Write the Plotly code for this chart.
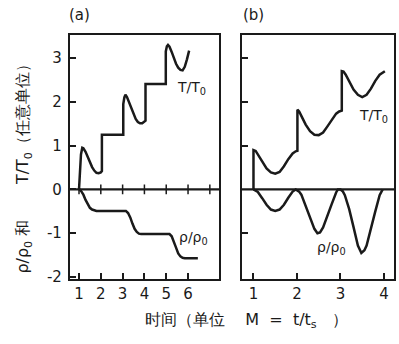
import plotly.graph_objects as go

# ---- data ----
# panel (a): T/T0
ta_x = [1.0, 1.04, 1.09, 1.15, 1.2, 1.3, 1.4, 1.5, 1.6, 1.7, 1.8, 1.9, 2.0, 2.05,
        2.05, 3.03,
        3.03, 3.08, 3.13, 3.2, 3.3, 3.4, 3.5, 3.6, 3.7, 3.8, 3.9, 4.0, 4.05,
        4.05, 4.98,
        4.98, 5.03, 5.08, 5.15, 5.25, 5.35, 5.45, 5.55, 5.65, 5.75, 5.85, 5.95, 6.05]
ta_y = [0.0, 0.45, 0.8, 0.95, 0.94, 0.86, 0.74, 0.62, 0.51, 0.43, 0.38, 0.37, 0.39, 0.42,
        1.25, 1.25,
        1.95, 2.1, 2.16, 2.11, 1.98, 1.84, 1.71, 1.61, 1.54, 1.51, 1.51, 1.54, 1.57,
        2.41, 2.41,
        3.15, 3.27, 3.3, 3.26, 3.14, 3.0, 2.87, 2.78, 2.73, 2.72, 2.8, 2.97, 3.17]

# panel (a): rho/rho0
ra_x = [1.0, 1.05, 1.1, 1.2, 1.3, 1.4, 1.5, 1.6, 1.7, 1.8, 1.9,
        3.15, 3.25, 3.35, 3.45, 3.55, 3.65, 3.75, 3.85,
        5.15, 5.25, 5.35, 5.45, 5.55, 5.65, 5.75, 5.85, 6.45]
ra_y = [0.0, -0.01, -0.04, -0.12, -0.24, -0.35, -0.42, -0.46, -0.48, -0.49, -0.49,
        -0.49, -0.54, -0.64, -0.78, -0.9, -0.97, -1.01, -1.02,
        -1.02, -1.07, -1.18, -1.33, -1.46, -1.53, -1.56, -1.57, -1.57]

# panel (b): T/T0
tb_x = [1.0, 1.0, 1.05, 1.1, 1.2, 1.3, 1.4, 1.5, 1.6, 1.7, 1.8, 1.9, 1.97, 2.01,
        2.01, 2.05, 2.1, 2.2, 2.3, 2.4, 2.5, 2.6, 2.7, 2.8, 2.9, 2.97, 3.03,
        3.03, 3.07, 3.12, 3.2, 3.3, 3.4, 3.5, 3.6, 3.7, 3.8, 3.9, 4.02]
tb_y = [0.0, 0.9, 0.88, 0.8, 0.62, 0.48, 0.39, 0.36, 0.4, 0.53, 0.69, 0.82, 0.87, 0.88,
        1.82, 1.78, 1.68, 1.48, 1.33, 1.25, 1.24, 1.3, 1.44, 1.6, 1.73, 1.78, 1.8,
        2.7, 2.69, 2.62, 2.46, 2.28, 2.16, 2.11, 2.16, 2.3, 2.48, 2.62, 2.7]

# panel (b): rho/rho0
rb_x = [1.0, 1.1, 1.2, 1.3, 1.4, 1.5, 1.6, 1.7, 1.8, 1.9, 1.97,
        2.05, 2.1, 2.2, 2.3, 2.4, 2.47, 2.53, 2.6, 2.7, 2.8, 2.9, 2.94,
        3.0, 3.05, 3.1, 3.2, 3.3, 3.4, 3.48, 3.55, 3.6, 3.7, 3.8, 3.9, 3.97]
rb_y = [0.0, -0.06, -0.2, -0.35, -0.46, -0.49, -0.46, -0.35, -0.19, -0.05, 0.0,
        -0.05, -0.12, -0.37, -0.63, -0.9, -1.0, -0.98, -0.87, -0.62, -0.33, -0.07, 0.0,
        0.0, -0.04, -0.13, -0.45, -0.86, -1.28, -1.45, -1.39, -1.28, -0.92, -0.5, -0.13, 0.0]

a_xticks = [1, 2, 3, 4, 5, 6]
a_zero_ticks = [1, 2, 3, 4, 5, 6, 7]
b_xticks = [1, 2, 3, 4]
y_ticks = [-2, -1, 0, 1, 2, 3]
b_yticks = [-1, 1, 2, 3]

W, H = 399, 344
def px(x):
    return x / W
def py(y):
    return 1 - y / H

INK = "#1a1a1a"
FONT = "DejaVu Sans"
LW = 2.5

fig = go.Figure()
fig.add_trace(go.Scatter(x=ta_x, y=ta_y, mode="lines", line=dict(color=INK, width=LW),
                         xaxis="x", yaxis="y", showlegend=False, hoverinfo="skip"))
fig.add_trace(go.Scatter(x=ra_x, y=ra_y, mode="lines", line=dict(color=INK, width=LW),
                         xaxis="x", yaxis="y", showlegend=False, hoverinfo="skip"))
fig.add_trace(go.Scatter(x=a_zero_ticks, y=[0] * len(a_zero_ticks), mode="markers",
                         marker=dict(symbol="line-ns", size=7, line=dict(color=INK, width=1.5)),
                         xaxis="x", yaxis="y", showlegend=False, hoverinfo="skip"))
fig.add_trace(go.Scatter(x=tb_x, y=tb_y, mode="lines", line=dict(color=INK, width=LW),
                         xaxis="x2", yaxis="y2", showlegend=False, hoverinfo="skip"))
fig.add_trace(go.Scatter(x=rb_x, y=rb_y, mode="lines", line=dict(color=INK, width=LW),
                         xaxis="x2", yaxis="y2", showlegend=False, hoverinfo="skip"))

ydom = [py(285), py(36)]
yrange = [-2.05, 3.52]
axis_common = dict(showline=True, linecolor=INK, linewidth=2.2, mirror=True,
                   showgrid=False, zeroline=False, ticks="inside", ticklen=6,
                   tickwidth=1.5, tickcolor=INK,
                   tickfont=dict(family=FONT, size=15, color=INK))

fig.update_layout(
    width=W, height=H, autosize=False,
    margin=dict(l=0, r=0, t=0, b=0),
    paper_bgcolor="white", plot_bgcolor="white",
    xaxis=dict(domain=[px(70), px(219)], range=[0.587, 7.42], anchor="y",
               tickvals=a_xticks, ticktext=[str(v) for v in a_xticks], **axis_common),
    yaxis=dict(domain=ydom, range=yrange, anchor="x",
               tickvals=y_ticks, ticktext=[str(v) for v in y_ticks],
               ticklabelstandoff=3, **axis_common),
    xaxis2=dict(domain=[px(242), px(394)], range=[0.736, 4.23], anchor="y2",
                tickvals=b_xticks, ticktext=[str(v) for v in b_xticks], **axis_common),
    yaxis2=dict(domain=ydom, range=yrange, anchor="x2",
                tickvals=b_yticks, showticklabels=False, **axis_common),
    shapes=[
        dict(type="line", xref="x domain", yref="y", x0=0, x1=1, y0=0, y1=0,
             line=dict(color=INK, width=2.2)),
        dict(type="line", xref="x2 domain", yref="y2", x0=0, x1=1, y0=0, y1=0,
             line=dict(color=INK, width=2.2)),
    ],
)

def ann(text, x, y, size=14, angle=0):
    fig.add_annotation(text=text, x=px(x), y=py(y), xref="paper", yref="paper",
                       showarrow=False, xanchor="center", yanchor="middle",
                       textangle=angle, font=dict(family=FONT, size=size, color=INK))

ann("(a)", 79, 15, 15)
ann("(b)", 253, 15, 15)
ann("T/T<sub>0</sub>", 191, 90, 14)
ann("T/T<sub>0</sub>", 373, 118, 14)
ann("ρ/ρ<sub>0</sub>", 193, 243, 14)
ann("ρ/ρ<sub>0</sub>", 331, 253, 14)
ann("ρ/ρ<sub>0</sub> 和       T/T<sub>0</sub>（任意单位）", 24, 168, 16, -90)
ann("时间（单位    M  =  t/t<sub>s</sub>   ）", 246, 327, 16)

fig.write_html("out.html", config={"displayModeBar": False},
               post_script="document.body.style.margin='0';document.body.style.padding='0';")
